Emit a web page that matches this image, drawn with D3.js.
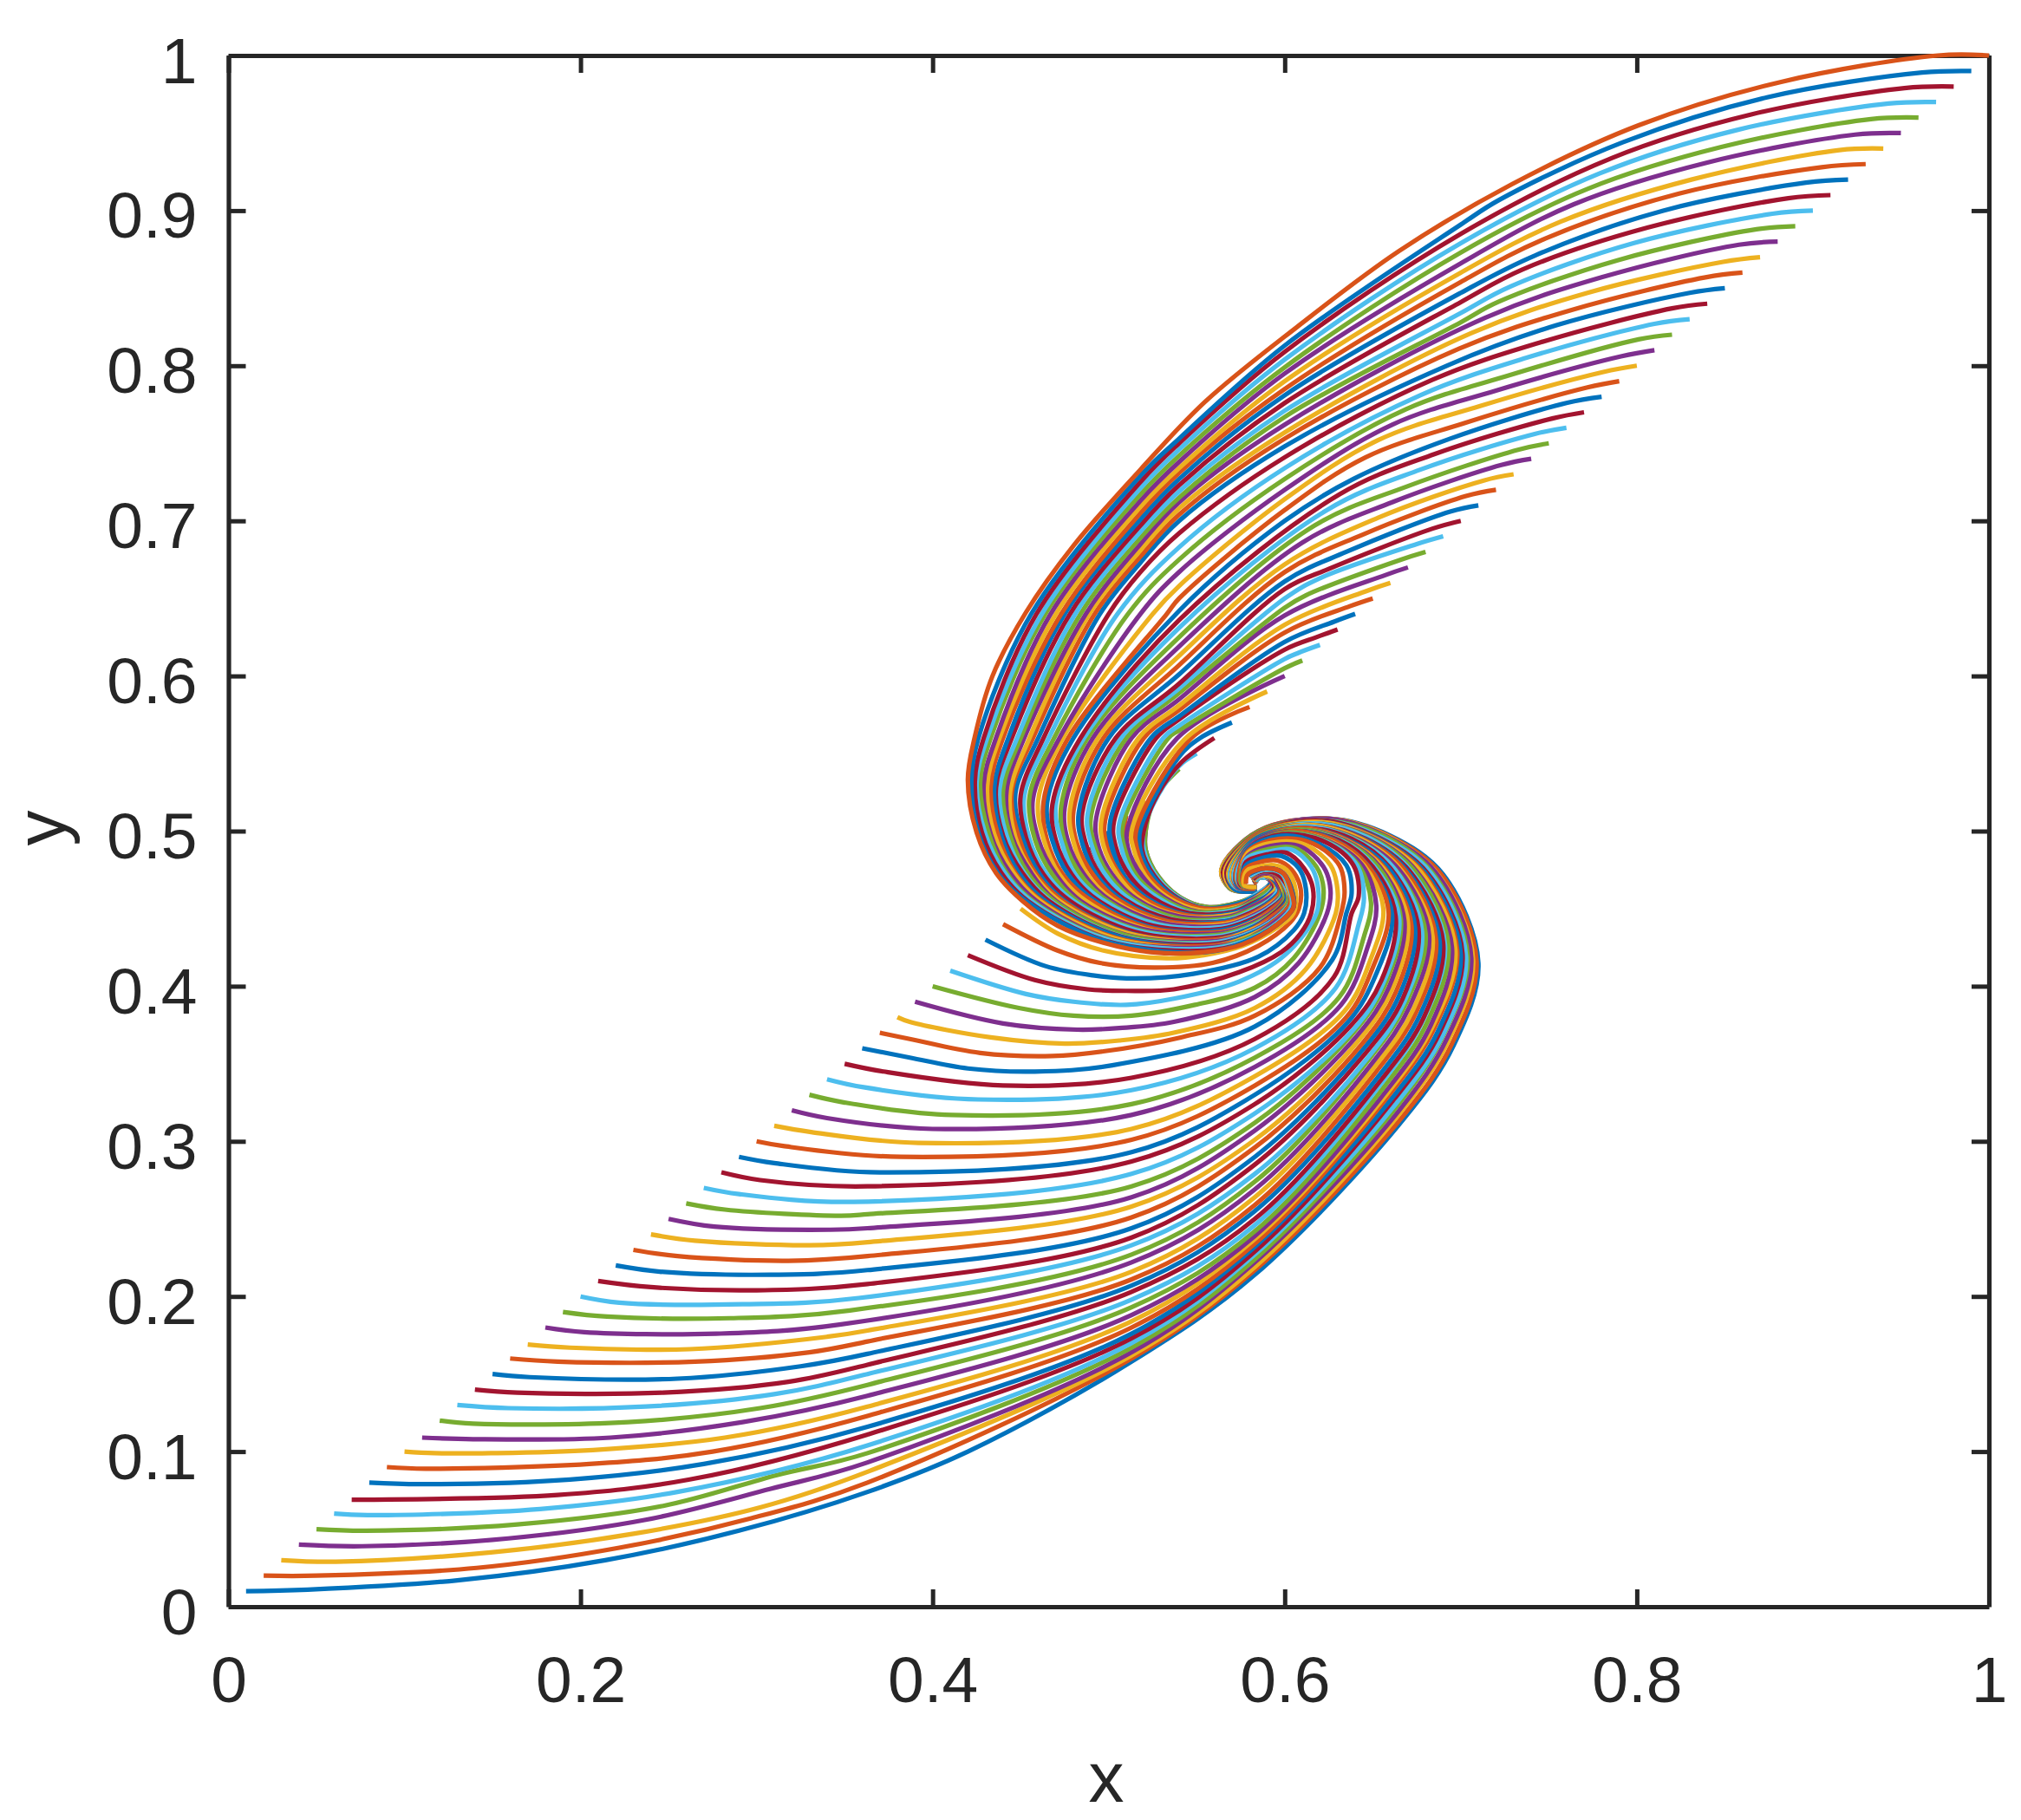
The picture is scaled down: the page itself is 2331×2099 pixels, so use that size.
<!DOCTYPE html>
<html><head><meta charset="utf-8">
<script src="https://cdn.jsdelivr.net/npm/d3@7"></script>
<style>html,body{margin:0;padding:0;background:#fff}svg{display:block}</style>
</head><body><svg id="chart" width="2331" height="2099"></svg>
<script>
// Trajectories: x,y,x,y,... in thousandths of an axis unit.
const c1=[10,10,45,11,130,17,214,30,290,49,363,74,420,100,513,158,583,214,668,315,696,362,710,415,690,472,660,497,625,508,585,500,564,475,569,463,579,461,584,462];
const c2=[20,20,50,20,141,25,222,38,297,57,363,80,513,160,583,217,667,316,695,363,709,416,689,472,659,497,624,508,585,500,564,475,569,463,579,461,584,462];
const c3=[30,30,61,29,149,35,230,47,302,64,363,87,513,162,583,219,666,319,693,365,707,417,687,472,658,497,623,508,585,499,564,475,569,463,579,461,584,462];
const c4=[40,40,76,39,159,44,237,56,308,76,363,93,513,164,583,222,665,320,692,366,706,418,686,473,657,497,623,508,584,499,565,475,569,463,579,461,584,462];
const c5=[50,50,78,49,164,53,247,65,312,85,363,99,513,167,583,224,664,323,690,368,704,419,684,473,656,497,622,507,584,499,565,475,569,463,579,461,584,462];
const c6=[60,60,79,59,177,63,255,74,363,104,513,170,583,227,663,324,690,369,703,419,683,473,655,496,621,507,584,498,565,474,570,463,579,461,584,462];
const c7=[70,69,81,69,187,72,262,82,363,111,513,173,583,229,662,327,688,370,701,421,681,473,653,496,620,507,584,498,565,474,570,463,579,461,584,462];
const c8=[80,80,109,79,194,82,270,92,363,116,513,176,583,232,661,328,687,371,700,421,680,473,652,496,620,506,584,498,566,474,570,463,579,461,584,462];
const c9=[90,90,112,89,205,92,275,100,363,123,513,180,583,234,660,331,685,373,698,423,678,474,651,496,619,506,584,498,566,474,570,463,579,461,584,462];
const c10=[100,100,117,99,149,99,207,101,282,109,363,129,513,184,583,237,659,332,684,374,697,423,677,474,650,496,618,506,584,497,566,474,570,463,580,461,584,462];
const c11=[110,109,139,108,217,109,292,119,363,136,513,188,583,239,658,333,683,375,695,425,675,474,649,496,617,505,584,497,567,474,571,463,580,461,584,462];
const c12=[120,120,139,118,227,119,302,128,363,143,513,193,583,242,657,336,681,377,693,426,674,474,648,496,617,505,584,497,567,474,571,463,580,461,584,462];
const c13=[130,130,159,128,237,129,310,137,363,150,513,198,583,246,656,339,679,379,691,427,672,474,647,496,616,505,584,496,567,474,571,463,580,461,584,462];
const c14=[140,140,164,138,247,138,318,145,363,156,513,203,583,250,655,340,679,380,690,428,671,474,646,495,615,504,584,496,567,474,571,463,580,461,584,462];
const c15=[150,150,171,148,255,147,325,155,363,163,513,207,583,255,654,343,677,382,688,429,669,475,645,495,614,504,583,496,568,474,571,463,581,461,584,462];
const c16=[160,160,187,158,265,158,330,164,363,171,513,211,583,259,652,345,675,384,686,430,668,475,644,495,614,504,583,496,568,473,572,464,583,463];
const c17=[170,169,194,167,262,166,340,174,363,178,513,216,583,264,651,348,673,385,684,432,666,475,643,495,613,504,583,495,568,473,572,464,583,463];
const c18=[180,180,202,177,277,176,348,182,513,222,583,269,650,351,671,387,682,433,665,475,641,495,612,503,583,495,569,473,572,464,583,463];
const c19=[190,190,215,187,285,186,353,191,513,227,583,274,648,353,669,389,680,434,663,475,640,495,611,503,583,495,569,473,572,464,583,463];
const c20=[200,200,222,196,292,195,358,199,513,233,583,279,648,355,668,390,678,435,662,476,639,495,611,503,583,494,569,473,572,464,583,463];
const c21=[210,210,240,206,300,204,363,208,513,238,583,285,646,357,667,392,676,437,660,476,638,495,610,502,583,494,570,473,573,464,583,463];
const c22=[220,220,245,216,308,214,363,217,513,244,583,290,645,360,665,394,674,438,659,476,637,494,609,502,582,494,570,473,573,464,583,463];
const c23=[230,230,255,226,318,223,363,226,513,251,583,296,644,363,663,396,672,439,657,476,636,494,608,502,582,493,570,473,573,464,583,463];
const c24=[240,240,265,236,330,233,363,235,513,258,583,301,642,365,661,398,670,441,656,476,635,494,608,501,582,493,570,473,573,464,583,463];
const c25=[250,250,276,245,341,243,363,244,513,264,583,307,641,368,659,399,668,442,654,477,634,494,607,501,582,493,571,473,573,464,583,463];
const c26=[260,260,282,256,348,252,363,253,513,271,583,312,639,370,657,401,666,443,653,477,633,494,606,501,582,492,571,472,574,464,583,463];
const c27=[270,270,290,266,355,261,513,279,583,318,639,372,656,402,665,444,651,477,632,494,605,500,582,492,571,472,574,464,583,463];
const c28=[280,280,302,275,363,271,513,287,583,324,637,374,655,404,663,445,650,477,631,494,604,500,582,492,572,472,574,464,583,463];
const c29=[290,290,310,286,370,280,513,293,583,330,636,377,652,408,661,446,648,477,629,494,604,500,581,492,572,472,574,464,583,463];
const c30=[300,300,315,297,382,290,513,301,583,336,635,380,650,412,659,448,647,478,628,494,603,500,581,491,572,472,575,464,583,463];
const c31=[310,310,331,306,392,299,513,308,583,342,634,384,649,418,656,450,645,478,627,493,602,499,581,491,573,472,575,465,584,464];
const c32=[320,320,340,315,400,308,513,317,583,348,632,388,647,425,652,452,644,478,626,493,601,499,581,491,573,472,575,465,584,464];
const c33=[330,330,350,325,411,317,513,324,583,354,631,393,645,432,649,454,642,478,625,493,601,499,581,490,573,472,575,465,584,464];
const c34=[340,340,360,335,426,327,513,333,583,360,629,399,642,440,645,457,641,478,624,493,600,498,581,490,573,472,575,465,584,464];
const c35=[350,350,372,345,440,336,513,341,583,366,628,406,638,447,642,458,639,478,623,493,599,498,581,490,574,472,575,465,584,464];
const c36=[360,360,387,354,420,347,458,345,502,349,583,374,627,417,635,447,638,460,635,478,619,492,598,497,579,488,574,471,576,465,584,464];
const c37=[370,370,387,366,427,357,468,355,497,358,541,367,583,381,620,412,632,447,634,461,631,478,616,492,597,495,579,487,574,471,576,465,584,464];
const c38=[380,380,387,377,433,367,475,363,506,365,537,370,583,386,612,411,629,447,630,462,626,478,612,491,596,493,579,486,575,471,576,465,584,464];
const c39=[390,390,440,376,482,372,506,373,537,377,583,393,608,415,624,447,626,462,622,477,609,490,595,491,579,484,575,471,576,465,584,464];
const c40=[400,400,449,386,480,381,513,381,549,388,583,399,605,418,620,447,622,463,618,477,606,489,594,489,579,483,575,471,576,465,584,464];
const c41=[410,410,453,395,480,390,510,388,537,392,574,403,600,420,618,447,619,463,615,477,604,488,592,487,578,482,576,471,577,465,584,464];
const c42=[420,420,458,404,488,398,510,397,537,398,574,409,598,422,609,434,615,447,616,463,611,476,601,486,590,485,578,480,576,471,577,465,584,464];
const c43=[430,430,464,413,491,407,515,405,548,408,585,419,605,436,611,447,612,463,608,476,598,484,588,483,578,478,576,471,577,465,584,464];
const c44=[440,440,471,423,495,415,526,412,559,415,585,426,603,441,608,450,609,463,604,475,596,481,586,480,578,476,576,471,577,465,584,464];
const c45=[450,450,471,434,497,423,533,418,554,420,576,426,596,438,605,447,606,463,601,475,594,478,585,477,579,475,577,471,577,465,584,464];
const c46=[460,460,467,455,508,432,558,428,577,433,595,444,603,454,601,463,596,472,588,474,580,471];
const c47=[470,470,484,455,519,437,562,434,578,439,594,449,600,457,599,465,594,472,587,473,581,470];
const c48=[480,480,484,472,498,456,528,440,565,438,579,443,593,452,598,459,597,466,593,472,586,472,582,469];
const c49=[490,490,498,472,512,456,537,443,568,443,580,448,592,456,596,462,595,467,590,471,585,470,583,468];
const c50=[500,500,500,490,507,471,521,456,543,446,570,446,581,451,591,458,595,463,593,468,589,471,584,470,583,467];
const c51=[510,510,509,504,509,489,517,471,530,457,549,448,572,450,581,454,590,461,594,465,592,469,587,470,584,469,584,467];
const c52=[520,520,515,502,515,489,522,471,536,457,553,449,573,452,582,456,590,462,593,466,591,470,587,470,584,469,584,467];
const c53=[530,530,523,515,521,500,521,488,528,471,541,457,556,451,574,454,582,458,590,464,592,467,590,470,586,470,583,468,584,466];
const c54=[540,540,527,523,521,500,521,488,528,471,541,457,556,451,574,454,582,458,590,464,592,467,590,470,586,470,583,468,584,466];
const c55=[550,550,540,542,528,523,520,501,520,488,527,471,540,457,556,450,574,453,582,458,590,464,592,467,590,470,586,470,583,468,584,466];
const c56=[560,560,541,544,528,524,521,505,519,488,526,471,539,457,555,450,574,453,582,457,590,463,592,467,590,470,586,470,583,468,584,466];
const c57=[570,570,552,560,540,548,518,501,518,488,525,471,538,457,555,450,573,453,582,457,590,463,592,467,590,470,586,470,583,468,584,466];
const c58=[580,580,547,560,516,502,516,489,523,471,537,457,554,450,573,452,582,456,590,463,593,466,591,470,586,470,583,468,584,466];
const c59=[590,590,543,559,513,502,514,489,521,471,534,457,552,449,573,451,582,456,590,462,593,466,591,469,587,470,584,469,584,467];
const c60=[600,600,539,560,511,503,511,489,519,471,532,457,551,448,572,450,581,455,590,461,593,465,591,469,587,470,584,469,584,467];
const c61=[610,610,600,605,540,565,534,560,508,504,509,489,516,471,530,457,549,448,572,450,581,454,590,461,594,465,592,469,587,470,584,469,584,467];
const c62=[620,620,608,615,600,611,540,568,531,560,506,505,507,490,514,471,528,457,548,447,571,449,581,453,591,460,594,465,592,469,587,470,584,469,584,467];
const c63=[630,630,618,625,600,617,540,572,527,560,503,506,504,490,512,471,525,457,546,447,571,448,581,453,591,459,594,464,592,469,589,471,584,470,583,467];
const c64=[640,640,628,635,600,622,540,574,524,560,501,507,502,490,509,471,523,456,545,446,570,447,581,452,591,459,595,464,593,468,589,471,584,470,583,467];
const c65=[650,650,637,645,600,628,540,578,520,560,498,507,499,490,507,471,521,456,543,446,570,446,581,451,591,458,595,463,593,468,589,471,584,470,583,467];
const c66=[660,660,647,655,600,633,540,581,517,560,496,508,497,491,505,472,518,456,542,445,569,446,581,450,591,458,595,463,594,468,590,471,585,470,583,468];
const c67=[670,670,657,665,600,639,540,585,513,560,493,509,494,491,502,472,516,456,540,445,569,445,580,450,591,457,596,462,594,468,590,471,585,470,583,468];
const c68=[680,680,666,675,612,652,600,644,540,589,510,560,490,510,492,491,500,472,514,456,539,444,568,444,580,449,592,456,596,462,594,468,590,471,585,470,583,468];
const c69=[690,690,675,685,620,663,600,650,540,592,507,560,488,511,490,492,498,472,512,456,537,443,568,443,580,448,592,456,596,462,595,467,590,471,585,470,583,468];
const c70=[700,700,684,695,625,669,600,656,540,595,504,560,485,512,487,492,495,472,509,456,536,443,567,442,580,447,592,455,597,461,595,467,591,471,585,471,582,468];
const c71=[710,710,694,706,635,680,600,661,540,601,500,560,483,512,485,492,493,472,507,456,534,442,567,442,580,446,592,455,597,461,595,467,591,471,585,471,582,468];
const c72=[720,720,703,716,644,691,600,667,540,607,497,560,480,513,482,492,491,472,505,456,533,442,566,441,580,446,592,454,597,460,596,467,591,471,585,471,582,468];
const c73=[730,730,713,726,653,702,600,672,540,613,494,560,478,514,480,493,488,472,502,456,531,441,566,440,580,445,592,453,598,460,596,467,591,471,585,471,582,468];
const c74=[740,740,723,736,661,712,610,686,540,619,491,560,475,515,477,493,486,472,500,456,530,441,565,439,579,444,593,453,598,460,596,466,593,472,586,472,582,469];
const c75=[750,750,733,746,669,722,617,697,540,625,488,560,473,516,475,493,484,472,498,456,528,440,565,438,579,443,593,452,598,459,597,466,593,472,586,472,582,469];
const c76=[760,760,742,756,677,733,624,707,540,631,486,560,470,517,473,494,481,472,496,456,527,440,564,438,579,443,593,452,599,459,597,466,593,472,586,472,582,469];
const c77=[770,770,752,766,685,743,631,717,540,636,484,560,468,517,470,494,479,472,493,456,525,439,564,437,579,442,593,451,599,458,597,466,593,472,586,472,582,469];
const c78=[780,780,760,776,694,753,639,727,600,700,540,642,480,560,465,518,468,494,477,472,491,456,524,438,563,436,579,441,593,450,599,458,598,466,594,472,587,473,581,470];
const c79=[790,790,772,786,702,763,646,741,600,707,540,650,533,640,477,560,463,519,465,494,474,472,489,456,522,438,563,435,579,440,593,450,600,458,598,465,594,472,587,473,581,470];
const c80=[800,800,781,796,711,774,653,752,600,714,540,658,525,640,474,560,460,520,463,495,472,472,487,455,521,437,562,434,579,440,594,449,600,457,598,465,594,472,587,473,581,470];
const c81=[810,810,791,806,720,784,661,762,600,720,540,667,518,640,472,560,457,521,460,495,470,472,484,455,519,437,562,434,578,439,594,449,600,457,599,465,594,472,587,473,581,470];
const c82=[820,820,801,817,728,794,669,772,600,727,540,675,511,640,469,560,455,522,458,495,468,472,482,455,518,436,561,433,578,438,594,448,600,456,599,465,595,472,587,474,581,470];
const c83=[830,830,810,827,737,805,677,781,600,734,540,683,505,640,466,560,452,522,455,495,465,472,480,455,516,436,561,432,578,437,594,447,601,456,600,465,595,472,587,474,581,470];
const c84=[840,840,820,837,745,815,684,791,600,741,540,692,518,667,500,640,463,560,450,523,453,496,463,472,478,455,515,435,560,431,578,436,594,447,601,456,600,464,595,472,587,474,581,470];
const c85=[850,850,830,847,754,826,692,800,600,748,540,700,518,673,495,640,460,560,447,524,451,496,461,472,475,455,513,434,560,430,578,436,594,446,601,455,600,464,595,472,587,474,581,470];
const c86=[860,860,839,857,763,836,699,811,600,753,540,704,518,677,492,640,457,560,445,525,449,496,459,472,474,455,512,434,559,430,578,435,594,446,602,455,600,464,595,472,587,474,581,470];
const c87=[870,870,849,867,772,847,706,821,600,757,540,708,518,681,489,640,455,560,444,525,447,496,457,473,472,455,511,434,559,429,578,435,595,445,602,455,601,464,596,472,588,474,580,471];
const c88=[880,880,858,878,780,857,714,831,600,762,540,712,518,685,487,640,452,560,442,526,445,497,456,473,470,455,510,433,559,429,578,434,595,445,602,454,601,464,596,472,588,474,580,471];
const c89=[890,890,868,888,789,868,721,841,700,828,600,767,540,715,518,689,484,640,450,560,440,526,444,497,454,473,469,455,509,433,558,428,577,433,595,444,602,454,601,464,596,472,588,474,580,471];
const c90=[900,900,877,898,798,879,728,851,700,834,600,771,540,719,518,693,481,640,448,560,438,527,442,497,452,473,467,455,508,432,558,428,577,433,595,444,603,454,601,463,596,472,588,474,580,471];
const c91=[910,910,886,908,806,889,735,862,700,841,600,776,540,723,518,697,478,640,445,560,436,528,440,497,451,473,466,455,507,432,558,427,577,432,595,443,603,453,602,463,596,472,588,474,580,471];
const c92=[920,920,896,918,815,900,742,871,700,847,600,781,540,727,518,701,475,640,443,560,435,528,439,497,449,473,464,455,506,432,557,426,577,432,595,443,603,453,602,463,598,473,588,475,580,471];
const c93=[930,930,905,928,824,911,748,882,700,854,600,785,540,731,518,705,473,640,440,560,433,529,437,498,447,473,462,455,505,431,557,426,577,431,595,443,603,453,602,463,598,473,588,475,580,471];
const c94=[940,940,915,939,831,920,757,893,700,860,600,790,540,734,518,709,470,640,438,560,431,529,435,498,446,473,461,455,503,431,557,425,577,431,595,442,604,452,602,463,598,473,588,475,580,471];
const c95=[950,950,924,949,840,931,764,904,700,866,600,795,540,738,518,713,467,640,436,560,429,530,433,498,444,473,459,455,502,430,556,425,577,430,595,442,604,452,603,463,598,473,588,475,580,471];
const c96=[960,960,933,959,848,941,772,914,700,873,600,799,540,742,518,717,464,640,433,560,427,531,432,498,442,473,457,455,501,430,556,424,577,430,596,441,604,452,603,463,598,473,588,475,580,471];
const c97=[970,970,943,969,857,952,779,924,700,879,600,804,540,746,518,721,462,640,431,560,425,531,430,498,441,473,456,455,500,430,555,424,577,429,596,441,604,452,603,462,598,473,588,475,580,471];
const c98=[980,980,952,979,865,962,786,934,700,885,600,809,540,750,518,725,459,640,429,560,424,532,428,499,439,473,454,455,499,429,555,423,577,428,596,440,605,451,604,462,599,473,589,476,579,472];
const c99=[990,990,962,989,874,973,792,944,722,907,700,891,600,813,540,753,518,729,456,640,426,560,422,532,426,499,437,473,453,455,498,429,555,422,576,428,596,440,605,451,604,462,599,473,589,476,579,472];
const c100=[1000,1000,971,1000,882,983,801,955,729,917,665,874,607,825,555,777,518,733,480,684,453,641,434,600,424,561,420,533,425,499,436,473,451,455,471,439,497,428,524,422,554,422,576,427,596,440,605,451,604,460,599,473,589,476,579,472,578,466];
const curves=[c1,c2,c3,c4,c5,c6,c7,c8,c9,c10,c11,c12,c13,c14,c15,c16,c17,c18,c19,c20,c21,c22,c23,c24,c25,c26,c27,c28,c29,c30,c31,c32,c33,c34,c35,c36,c37,c38,c39,c40,c41,c42,c43,c44,c45,c46,c47,c48,c49,c50,c51,c52,c53,c54,c55,c56,c57,c58,c59,c60,c61,c62,c63,c64,c65,c66,c67,c68,c69,c70,c71,c72,c73,c74,c75,c76,c77,c78,c79,c80,c81,c82,c83,c84,c85,c86,c87,c88,c89,c90,c91,c92,c93,c94,c95,c96,c97,c98,c99,c100];
const colorOrder=["#0072BD","#D95319","#EDB120","#7E2F8E","#77AC30","#4DBEEE","#A2142F"];
const xTicks=[0,0.2,0.4,0.6,0.8,1];
const yTicks=[0,0.1,0.2,0.3,0.4,0.5,0.6,0.7,0.8,0.9,1];
const xTitle="x", yTitle="y";

const L=263.5,R=2294,T=64,B=1853, ink="#262626", font="'Liberation Sans',Arial,sans-serif";
const svg=d3.select("#chart");
const x=d3.scaleLinear().domain([0,1]).range([L,R]);
const y=d3.scaleLinear().domain([0,1]).range([B,T]);
const fmt=d=>String(d);
const styleAxis=g=>{g.selectAll("path.domain").attr("stroke",ink).attr("stroke-width",5.2);
  g.selectAll(".tick line").attr("stroke",ink).attr("stroke-width",5);
  g.selectAll("text").attr("fill",ink).attr("font-family",font).attr("font-size",75);};
const gBottom=svg.append("g").attr("transform",`translate(0,${B})`).call(d3.axisBottom(x).tickValues(xTicks).tickFormat(fmt).tickSize(-20).tickSizeOuter(0)).call(styleAxis);
gBottom.selectAll("text").attr("y",110).attr("dy",0);
svg.append("g").attr("transform",`translate(0,${T})`).call(d3.axisTop(x).tickValues(xTicks).tickFormat("").tickSize(-20).tickSizeOuter(0)).call(styleAxis);
const gLeft=svg.append("g").attr("transform",`translate(${L},0)`).call(d3.axisLeft(y).tickValues(yTicks).tickFormat(fmt).tickSize(-20).tickSizeOuter(0)).call(styleAxis);
gLeft.selectAll("text").attr("x",-36).attr("dy",31);
svg.append("g").attr("transform",`translate(${R},0)`).call(d3.axisRight(y).tickValues(yTicks).tickFormat("").tickSize(-20).tickSizeOuter(0)).call(styleAxis);

const line=d3.line().x(p=>x(p[0]/1000)).y(p=>y(p[1]/1000)).curve(d3.curveCatmullRom.alpha(0.5));
const toPairs=a=>d3.range(0,a.length,2).map(k=>[a[k],a[k+1]]);
svg.append("g").selectAll("path").data(curves).join("path")
  .attr("d",a=>line(toPairs(a))).attr("fill","none")
  .attr("stroke",(a,i)=>colorOrder[i%7]).attr("stroke-width",5.2).attr("stroke-linejoin","round");

svg.append("text").text(xTitle).attr("x",1276).attr("y",2078).attr("text-anchor","middle")
  .attr("font-family",font).attr("font-size",82).attr("fill",ink);
svg.append("text").text(yTitle).attr("transform","translate(75,955) rotate(-90)").attr("text-anchor","middle")
  .attr("font-family",font).attr("font-size",82).attr("fill",ink);
</script></body></html>
